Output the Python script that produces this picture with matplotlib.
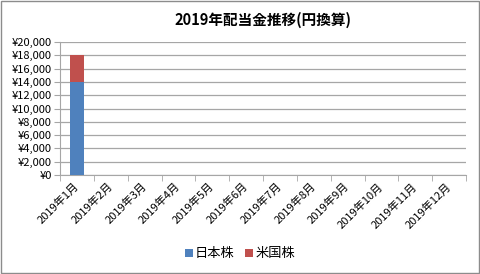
import numpy as np
import matplotlib.pyplot as plt
from matplotlib.patches import Rectangle
from matplotlib.ticker import FuncFormatter, MultipleLocator

plt.rcParams['font.family'] = ['Noto Sans CJK JP', 'DejaVu Sans']

# --- dados ---
meses = ['2019年%d月' % m for m in range(1, 13)]
japao = [14000, 0, 0, 0, 0, 0, 0, 0, 0, 0, 0, 0]
eua = [4000, 0, 0, 0, 0, 0, 0, 0, 0, 0, 0, 0]

AZUL = '#4F81BD'
VERMELHO = '#C0504D'
CINZA = '#A6A6A6'

fig = plt.figure(figsize=(4.8, 2.74), dpi=100)
fig.patches.append(Rectangle((0.002, 0.004), 0.996, 0.992, transform=fig.transFigure,
                             fill=False, edgecolor='#8C8C8C', linewidth=1))
ax = fig.add_axes([0.125, 0.361, 0.846, 0.486])

x = np.arange(len(meses))
ax.bar(x, japao, width=0.4, color=AZUL, label='日本株', zorder=3)
ax.bar(x, eua, width=0.4, bottom=japao, color=VERMELHO, label='米国株', zorder=3)

ax.set_xlim(-0.5, len(meses) - 0.5)
ax.set_ylim(0, 20000)
ax.yaxis.set_major_locator(MultipleLocator(2000))
ax.yaxis.set_major_formatter(FuncFormatter(lambda v, p: '¥{:,.0f}'.format(v)))
ax.grid(axis='y', color=CINZA, linewidth=0.9, zorder=0)

# marcas nas fronteiras das categorias, rótulos no centro
ax.set_xticks(x)
ax.set_xticklabels(meses, rotation=45, ha='right', va='center', rotation_mode='anchor')
ax.set_xticks(np.arange(-0.5, len(meses)), minor=True)
ax.tick_params(axis='x', which='major', length=0, pad=7, labelsize=8)
ax.tick_params(axis='x', which='minor', length=4, color=CINZA)
ax.tick_params(axis='y', length=4, color=CINZA, labelsize=8, pad=2)

for lado in ['top', 'right']:
    ax.spines[lado].set_visible(False)
ax.spines['left'].set_color(CINZA)
ax.spines['bottom'].set_color(CINZA)

ax.set_title('2019年配当金推移(円換算)', fontsize=10.5, fontweight='bold', pad=12)

fig.legend(loc='center', bbox_to_anchor=(0.5, 0.073), ncol=2, frameon=False,
           fontsize=9.5, handlelength=0.6, handleheight=0.6, handletextpad=0.15,
           columnspacing=0.8)

fig.savefig('out.png', dpi=100)
